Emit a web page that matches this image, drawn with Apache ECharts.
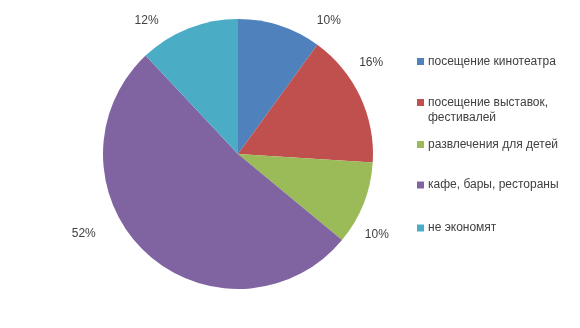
<!DOCTYPE html>
<html><head><meta charset="utf-8">
<script src="https://cdn.jsdelivr.net/npm/echarts@6/dist/echarts.min.js"></script>
<style>html,body{margin:0;padding:0;background:#fff}#c{width:580px;height:328px}</style>
</head><body><div id="c"></div>
<script>
var categories = ['посещение кинотеатра', 'посещение выставок,\nфестивалей', 'развлечения для детей', 'кафе, бары, рестораны', 'не экономят'];
var values = [10, 16, 10, 52, 12];
var colors = ['#4F81BD', '#C0504D', '#9BBB59', '#8064A2', '#4BACC6'];

var chart = echarts.init(document.getElementById('c'), null, {renderer: 'canvas'});
var font = 'Liberation Sans, Arial, sans-serif';
var legendTops = [49, 75, 132, 172.5, 215.5];
var labelShift = [[29, 5], [-15, -30], [-13, 27], [-38, -26], [-21, 2]];
var legends = categories.map(function (name, i) {
  return {
    data: [name], left: 412, top: legendTops[i], orient: 'vertical',
    icon: 'rect', itemWidth: 7, itemHeight: 7, itemGap: 4, selectedMode: false,
    formatter: function (n) { return n.indexOf('\n') >= 0 ? '\n' + n : n; },
    textStyle: {fontFamily: font, fontSize: 12, color: '#404040', lineHeight: 15,
      padding: [0, 0, 0, -1]}
  };
});
chart.setOption({
  animation: false,
  color: colors,
  legend: legends,
  series: [{
    type: 'pie',
    center: [238, 154],
    radius: 135,
    startAngle: 90,
    clockwise: true,
    data: categories.map(function (n, i) { return {name: n, value: values[i]}; }),
    itemStyle: {borderWidth: 0},
    label: {
      show: true, position: 'outside', formatter: '{c}%',
      fontFamily: font, fontSize: 12, color: '#404040'
    },
    labelLine: {show: false, length: 10, length2: 0},
    labelLayout: function (p) {
      var s = labelShift[p.dataIndex];
      return {dx: s[0], dy: s[1]};
    },
    emphasis: {disabled: true}
  }]
});
</script></body></html>
